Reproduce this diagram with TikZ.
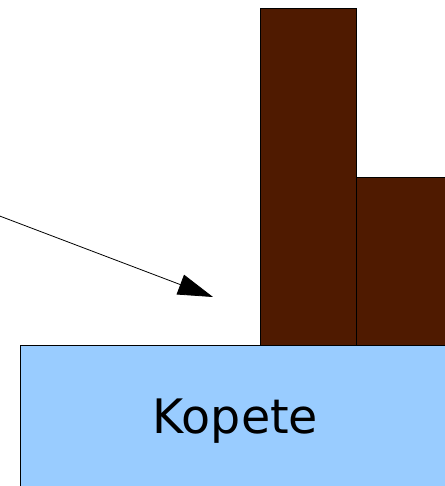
\documentclass[tikz,border=0pt]{standalone}
\usepackage{fontspec}
\setmainfont{DejaVu Sans}
\usetikzlibrary{arrows.meta}
\definecolor{barbrown}{HTML}{4F1A00}
\definecolor{boxblue}{HTML}{99CCFF}
\begin{document}
\begin{tikzpicture}[x=1pt,y=-1pt,
  bar/.style={draw=black,line width=0.9pt,fill=barbrown,rectangle,inner sep=0pt,anchor=north west},
  base/.style={draw=black,line width=0.9pt,fill=boxblue,rectangle,inner sep=0pt,anchor=north west},
  pointer/.style={line width=0.8pt,-{Triangle[length=35pt,width=21pt]}}]
\useasboundingbox (0,0) rectangle (444,486);
\node[bar,minimum width=96pt,minimum height=337pt] (tall) at (260,8) {};
\node[bar,minimum width=110pt,minimum height=168pt] (short) at (356,177) {};
\node[base,minimum width=460pt,minimum height=160pt] (kopete) at (20,345) {};
\node[anchor=base,font=\fontsize{47.5}{52}\selectfont] (label) at (235.5,433) {Kopete};
\coordinate (start) at (-3,215);
\coordinate (tip) at (213,297);
\draw[pointer] (start) -- (tip);
\end{tikzpicture}
\end{document}
